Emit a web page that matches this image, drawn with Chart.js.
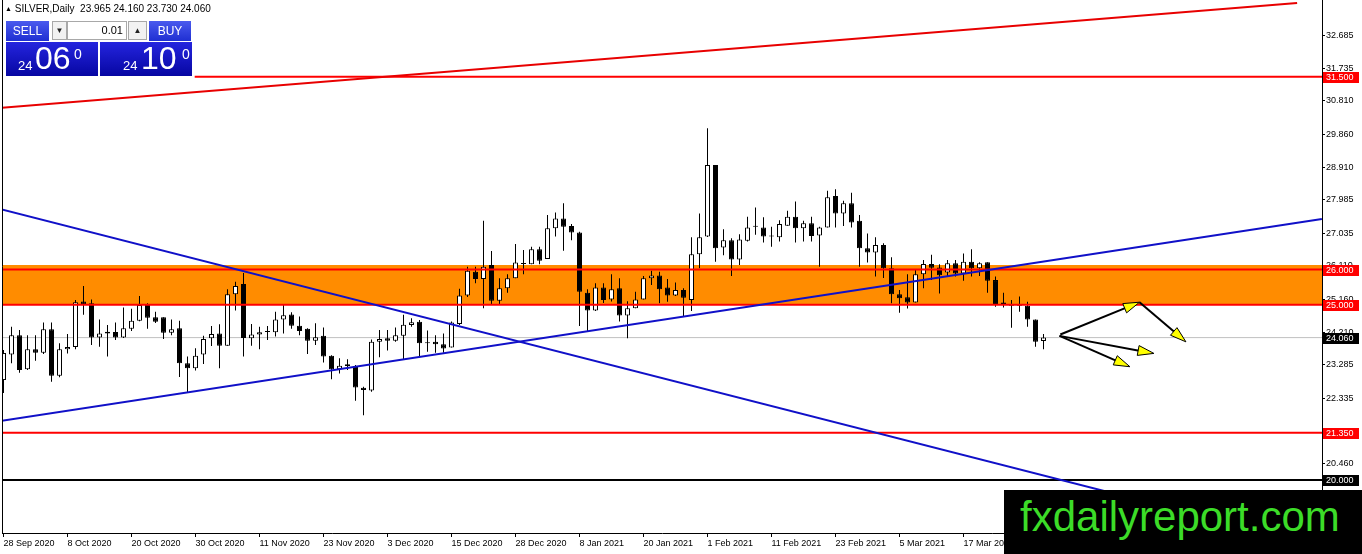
<!DOCTYPE html>
<html>
<head>
<meta charset="utf-8">
<title>SILVER, Daily</title>
<script src="https://cdn.jsdelivr.net/npm/chart.js@4.4.1/dist/chart.umd.min.js"></script>
<style>
  html, body { margin: 0; padding: 0; background: #fff; overflow: hidden; }
  #wrap { position: relative; width: 1362px; height: 554px; font-family: 'Liberation Sans', Arial, sans-serif; }
  #silverChart { position: absolute; left: 0; top: 0; }
  #title { position: absolute; left: 5px; top: 3px; font-size: 10px; line-height: 12px; color: #000; white-space: pre; }
  #title .tri { font-size: 7px; vertical-align: 1px; }
  .box { position: absolute; box-sizing: border-box; }
  .btn { color: #fff; font-size: 12px; line-height: 20px; text-align: center; background: linear-gradient(#4a5aee, #1f2fd2); }
  .spin { background: #f2f2f2; border: 1px solid #a8a8a8; font-size: 8px; line-height: 17px; text-align: center; color: #222; }
  #lot { background: #fff; border: 1px solid #a8a8a8; font-size: 11px; line-height: 17px; text-align: right; padding-right: 3px; }
  .price { background: linear-gradient(#2525de, #0606a2); color: #fff; }
  .price span { position: absolute; line-height: 1; }
  .p-small { font-size: 13px; top: 17px; }
  .p-big { font-size: 32px; top: 0px; }
  .p-sup { font-size: 14px; top: 5px; }
  #mark { position: absolute; left: 1004px; top: 490px; width: 358px; height: 64px; background: #000; }
  #mark span { position: absolute; left: 16px; top: 6px; font-size: 42px; line-height: 1; color: #3cdc28; }
</style>
</head>
<body>
<div id="wrap">
  <canvas id="silverChart" width="1362" height="554"></canvas>
  <div id="title"><span class="tri">▲</span> SILVER,Daily  <span id="ohlc"></span></div>
  <div class="box btn" style="left:6px;top:21px;width:43px;height:20px;">SELL</div>
  <div class="box spin" style="left:52px;top:21px;width:15px;height:19px;">▼</div>
  <div class="box" id="lot" style="left:67px;top:21px;width:60px;height:19px;">0.01</div>
  <div class="box spin" style="left:128px;top:21px;width:19px;height:19px;">▲</div>
  <div class="box btn" style="left:149px;top:21px;width:42px;height:20px;">BUY</div>
  <div class="box price" style="left:6px;top:42px;width:92px;height:34px;">
    <span class="p-small" style="left:12px;">24</span><span class="p-big" style="left:29px;">06</span><span class="p-sup" style="left:68px;">0</span>
  </div>
  <div class="box price" style="left:100px;top:42px;width:92px;height:34px;">
    <span class="p-small" style="left:23px;">24</span><span class="p-big" style="left:41px;">10</span><span class="p-sup" style="left:82px;">0</span>
  </div>
  <div id="mark"><span>fxdailyreport.com</span></div>
</div>
<script>
// SILVER daily candles, 28 Sep 2020 onwards (one entry per trading day)
const opens = [
  22.85, 23.58, 24.13, 23.16, 23.73, 23.63, 24.30, 22.97, 23.73, 23.79,
  25.09, 25.04, 24.06, 24.23, 24.22, 24.06, 24.31, 24.54, 24.99, 24.64,
  24.64, 24.20, 24.33, 23.33, 23.19, 23.58, 24.04, 24.18, 23.83, 25.30,
  25.59, 24.04, 24.15, 24.22, 24.21, 24.58, 24.72, 24.40, 24.31, 23.97,
  24.11, 23.54, 23.16, 23.30, 23.25, 22.63, 22.55, 23.94, 24.04, 23.97,
  24.11, 24.42, 24.51, 23.93, 23.94, 23.87, 23.78, 24.45, 25.26, 25.94,
  25.73, 26.13, 25.11, 25.47, 25.75, 26.16, 26.15, 26.58, 26.30, 27.18,
  27.46, 27.24, 27.06, 25.34, 24.83, 25.49, 25.15, 25.47, 24.69, 24.90,
  25.15, 25.75, 25.83, 25.49, 25.26, 25.42, 25.13, 26.44, 26.94, 28.98,
  26.63, 26.84, 26.29, 26.82, 27.22, 27.20, 26.94, 26.92, 27.25, 27.51,
  27.18, 27.32, 26.97, 27.20, 28.10, 27.60, 27.89, 27.39, 26.61, 26.49,
  26.70, 26.04, 25.30, 25.21, 25.06, 25.87, 26.16, 26.06, 25.92, 26.18,
  25.89, 26.22, 26.04, 26.21, 25.70, 25.06, 25.00, 24.98, 24.97, 24.58,
  23.965
];
const highs = [
  23.71, 24.37, 24.28, 24.13, 24.13, 24.49, 24.49, 23.90, 24.16, 25.13,
  25.53, 25.15, 24.58, 24.42, 24.49, 24.92, 24.88, 25.25, 25.04, 24.80,
  24.64, 24.58, 24.54, 23.52, 23.76, 24.11, 24.39, 24.44, 25.44, 25.65,
  25.90, 24.45, 24.37, 24.39, 24.80, 25.02, 24.78, 24.66, 24.33, 24.47,
  24.35, 23.56, 23.47, 23.44, 23.28, 22.66, 24.01, 24.28, 24.28, 24.35,
  24.71, 24.61, 24.56, 24.26, 24.13, 24.18, 24.52, 25.45, 26.08, 26.08,
  27.39, 26.53, 25.75, 25.87, 26.73, 26.56, 26.65, 26.65, 27.56, 27.63,
  27.89, 27.30, 27.08, 25.44, 25.61, 25.61, 25.87, 25.75, 25.10, 25.37,
  25.82, 25.97, 25.94, 25.73, 25.63, 25.47, 26.92, 27.60, 30.03, 28.98,
  27.15, 26.89, 27.01, 27.51, 27.77, 27.49, 27.22, 27.41, 27.68, 27.94,
  27.39, 27.51, 27.22, 28.25, 28.29, 27.96, 28.19, 27.56, 27.03, 26.92,
  26.75, 26.35, 25.42, 25.87, 26.02, 26.27, 26.42, 26.15, 26.27, 26.27,
  26.46, 26.58, 26.21, 26.21, 25.80, 25.34, 25.13, 25.23, 25.08, 24.58,
  24.160
];
const lows = [
  22.48, 23.33, 23.06, 23.14, 23.40, 23.59, 22.80, 22.93, 23.61, 23.73,
  24.71, 23.85, 23.80, 23.52, 23.99, 24.05, 24.25, 24.53, 24.31, 24.48,
  24.02, 24.13, 22.94, 22.49, 23.12, 23.31, 23.82, 23.19, 23.83, 24.83,
  23.52, 23.83, 23.73, 23.99, 24.09, 24.18, 24.31, 24.13, 23.59, 23.85,
  23.35, 22.87, 23.04, 23.14, 22.26, 21.85, 22.52, 23.50, 23.69, 23.94,
  23.42, 24.37, 23.52, 23.66, 23.63, 23.63, 23.78, 24.42, 25.22, 25.61,
  24.90, 25.02, 25.02, 25.34, 25.75, 25.87, 26.15, 26.15, 26.30, 26.94,
  26.54, 26.84, 24.39, 24.23, 24.82, 25.05, 25.09, 24.52, 24.04, 24.90,
  25.15, 25.56, 25.04, 25.08, 25.25, 24.68, 24.82, 26.04, 26.93, 26.22,
  26.41, 25.82, 26.13, 26.80, 26.99, 26.77, 26.65, 26.80, 27.25, 26.77,
  26.80, 26.80, 26.08, 27.20, 27.20, 27.24, 27.20, 26.08, 26.20, 25.80,
  25.76, 25.04, 24.77, 24.89, 25.06, 25.47, 25.70, 25.32, 25.80, 25.80,
  25.68, 25.80, 25.82, 25.34, 24.94, 24.92, 24.34, 24.80, 24.37, 23.80,
  23.730
];
const closes = [
  23.62, 24.13, 23.14, 23.73, 23.63, 24.30, 22.97, 23.73, 23.79, 25.07,
  25.01, 24.06, 24.18, 24.18, 24.06, 24.33, 24.54, 24.99, 24.63, 24.51,
  24.20, 24.30, 23.33, 23.19, 23.54, 24.02, 24.16, 23.83, 25.30, 25.53,
  24.05, 24.15, 24.21, 24.22, 24.58, 24.70, 24.40, 24.25, 23.97, 24.07,
  23.52, 23.16, 23.26, 23.25, 22.64, 22.57, 23.94, 24.02, 23.97, 24.13,
  24.43, 24.50, 23.90, 23.90, 23.87, 23.75, 24.49, 25.26, 25.97, 25.73,
  26.08, 25.11, 25.47, 25.75, 26.20, 26.16, 26.58, 26.25, 27.18, 27.46,
  27.22, 27.06, 25.37, 24.83, 25.49, 25.13, 25.44, 24.69, 24.90, 25.15,
  25.75, 25.83, 25.44, 25.26, 25.42, 25.20, 26.44, 26.92, 28.98, 26.61,
  26.84, 26.29, 26.86, 27.20, 27.22, 26.94, 26.94, 27.30, 27.51, 27.18,
  27.32, 26.96, 27.20, 28.06, 27.60, 27.89, 27.34, 26.61, 26.49, 26.70,
  26.04, 25.30, 25.18, 25.06, 25.87, 26.16, 26.05, 25.84, 26.18, 25.89,
  26.22, 26.04, 26.18, 25.68, 25.02, 25.02, 24.97, 24.97, 24.58, 23.94,
  24.060
];

// date labels on the time axis and the bar each one belongs to
const dateLabels = ['28 Sep 2020', '8 Oct 2020', '20 Oct 2020', '30 Oct 2020', '11 Nov 2020', '23 Nov 2020',
  '3 Dec 2020', '15 Dec 2020', '28 Dec 2020', '8 Jan 2021', '20 Jan 2021', '1 Feb 2021', '11 Feb 2021',
  '23 Feb 2021', '5 Mar 2021', '17 Mar 2021'];
const dateLabelBars = [0, 8, 16, 24, 32, 40, 48, 56, 64, 72, 80, 88, 96, 104, 112, 120];

// price axis ticks
const priceTicks = [20.460, 21.385, 22.335, 23.285, 24.210, 25.160, 26.110, 27.035, 27.985, 28.910, 29.860, 30.810, 31.735, 32.685];

// horizontal levels (price, first bar) and the support/resistance zone
const levelPrices = [31.5, 26.0, 25.0, 21.35, 20.0];
const levelFromBar = [23.9, null, null, null, null];
const zoneTop = 26.13;
const zoneBottom = 25.0;
const bidPrice = 24.060;

// trend lines: [bar, price] at each end
const redTrend = [[-0.44, 30.61], [161.7, 33.60]];
const blueFalling = [[-0.44, 27.73], [165.0, 18.09]];
const blueRising = [[-0.44, 21.68], [164.8, 27.44]];

// projection arrows: from [bar, price] to [bar, price]
const arrowFrom = [[132.1, 24.15], [142.0, 25.07], [132.0, 24.11], [132.0, 24.11]];
const arrowTo = [[142.0, 25.07], [147.8, 23.94], [143.8, 23.61], [140.8, 23.23]];

const xMin = -0.1875, xMax = 164.8125;
const yMin = 18.489, yMax = 33.687;

const last = closes.length - 1;
document.getElementById('ohlc').textContent =
  [opens[last], highs[last], lows[last], closes[last]].map(v => v.toFixed(3)).join(' ');

Chart.defaults.font.family = "'Liberation Sans', Arial, sans-serif";
Chart.defaults.color = '#000';

const bodies = opens.map((o, i) => ({ x: i, y: [o, closes[i]] }));
const wicks = lows.map((l, i) => ({ x: i, y: [l, highs[i]] }));
const bodyColors = opens.map((o, i) => closes[i] >= o ? '#ffffff' : '#000000');

function hLine(price, fromBar) {
  return [{ x: fromBar == null ? xMin : fromBar, y: price }, { x: xMax, y: price }];
}
function segment(pts) {
  return pts.map(p => ({ x: p[0], y: p[1] }));
}
const lineBase = { type: 'line', pointRadius: 0, pointHoverRadius: 0, tension: 0, fill: false, clip: 0 };

const levelColors = ['#ff0000', '#ff0000', '#ff0000', '#ff0000', '#000000'];

const datasets = [
  { ...lineBase, data: hLine(zoneTop), borderWidth: 0, fill: '+1', backgroundColor: '#ff8c00', order: 100 },
  { ...lineBase, data: hLine(zoneBottom), borderWidth: 0, order: 99 },
  { ...lineBase, data: hLine(bidPrice), borderWidth: 1, borderColor: '#c0c0c0', order: 90 },
  {
    type: 'bar', data: wicks, backgroundColor: '#000', borderWidth: 0, grouped: false,
    barPercentage: 0.125, categoryPercentage: 1, inflateAmount: 0, order: 50
  },
  {
    type: 'bar', data: bodies, backgroundColor: bodyColors, borderColor: '#000', borderWidth: 1,
    borderSkipped: false, grouped: false, barPercentage: 0.625, categoryPercentage: 1,
    minBarLength: 1, inflateAmount: 0, order: 40
  }
];
levelPrices.forEach((p, i) => {
  datasets.push({ ...lineBase, data: hLine(p, levelFromBar[i]), borderWidth: 2, borderColor: levelColors[i], order: 30 });
});
datasets.push({ ...lineBase, data: segment(redTrend), borderWidth: 2, borderColor: '#e80000', order: 20 });
datasets.push({ ...lineBase, data: segment(blueFalling), borderWidth: 2, borderColor: '#1010c8', order: 20 });
datasets.push({ ...lineBase, data: segment(blueRising), borderWidth: 2, borderColor: '#1010c8', order: 20 });

// arrows drawn in price/bar space
const arrowPlugin = {
  id: 'arrows',
  afterDatasetsDraw(chart) {
    const { ctx, scales: { x, y } } = chart;
    ctx.save();
    arrowFrom.forEach((f, i) => {
      const t = arrowTo[i];
      const x0 = x.getPixelForValue(f[0]), y0 = y.getPixelForValue(f[1]);
      const x1 = x.getPixelForValue(t[0]), y1 = y.getPixelForValue(t[1]);
      const len = Math.hypot(x1 - x0, y1 - y0);
      const ux = (x1 - x0) / len, uy = (y1 - y0) / len;
      const head = 16, half = 5;
      ctx.strokeStyle = '#000';
      ctx.lineWidth = 2;
      ctx.beginPath();
      ctx.moveTo(x0, y0);
      ctx.lineTo(x1 - ux * head * 0.6, y1 - uy * head * 0.6);
      ctx.stroke();
      ctx.beginPath();
      ctx.moveTo(x1, y1);
      ctx.lineTo(x1 - ux * head - uy * half, y1 - uy * head + ux * half);
      ctx.lineTo(x1 - ux * head + uy * half, y1 - uy * head - ux * half);
      ctx.closePath();
      ctx.fillStyle = '#ffff00';
      ctx.fill();
      ctx.lineWidth = 1;
      ctx.stroke();
    });
    ctx.restore();
  }
};

// left frame line and price tags on the right axis
const framePlugin = {
  id: 'frame',
  afterDraw(chart) {
    const { ctx, chartArea, scales: { y } } = chart;
    ctx.save();
    ctx.strokeStyle = '#000';
    ctx.lineWidth = 1;
    ctx.beginPath();
    ctx.moveTo(chartArea.left + 0.5, chartArea.top);
    ctx.lineTo(chartArea.left + 0.5, chartArea.bottom);
    ctx.stroke();

    const tags = levelPrices.map((p, i) => [p, levelColors[i]]);
    tags.push([bidPrice, '#000000']);
    ctx.font = "9px 'Liberation Sans', Arial, sans-serif";
    ctx.textBaseline = 'middle';
    ctx.textAlign = 'left';
    tags.forEach(([p, c]) => {
      const py = Math.round(y.getPixelForValue(p));
      ctx.fillStyle = c;
      ctx.fillRect(chartArea.right + 1, py - 5, 36, 11);
      ctx.fillStyle = '#fff';
      ctx.fillText(p.toFixed(3), chartArea.right + 4, py + 0.5);
    });
    ctx.restore();
  }
};

new Chart(document.getElementById('silverChart'), {
  type: 'bar',
  data: { datasets },
  options: {
    responsive: false,
    animation: false,
    events: [],
    layout: { padding: { left: 2, top: 0, right: 0, bottom: 0 } },
    plugins: { legend: { display: false }, tooltip: { enabled: false } },
    scales: {
      x: {
        type: 'linear',
        min: xMin,
        max: xMax,
        offset: false,
        afterBuildTicks: scale => { scale.ticks = dateLabelBars.map(b => ({ value: b })); },
        afterFit: scale => { scale.height = 21; scale.paddingLeft = 0; scale.paddingRight = 0; },
        grid: { drawOnChartArea: false, drawTicks: true, tickLength: 4, color: '#000', offset: false },
        border: { display: true, color: '#000', width: 1 },
        ticks: {
          autoSkip: false, maxRotation: 0, minRotation: 0, align: 'start', padding: 1,
          font: { size: 9 }, color: '#000',
          callback: (v, i) => dateLabels[i]
        }
      },
      y: {
        type: 'linear',
        position: 'right',
        min: yMin,
        max: yMax,
        afterBuildTicks: scale => { scale.ticks = priceTicks.map(v => ({ value: v })); },
        afterFit: scale => { scale.width = 40; scale.paddingTop = 0; scale.paddingBottom = 0; },
        grid: { drawOnChartArea: false, drawTicks: true, tickLength: 3, color: '#000' },
        border: { display: true, color: '#000', width: 1 },
        ticks: {
          autoSkip: false, padding: 1, font: { size: 9 }, color: '#000',
          callback: v => Number(v).toFixed(3)
        }
      }
    }
  },
  plugins: [arrowPlugin, framePlugin]
});
</script>
</body>
</html>
